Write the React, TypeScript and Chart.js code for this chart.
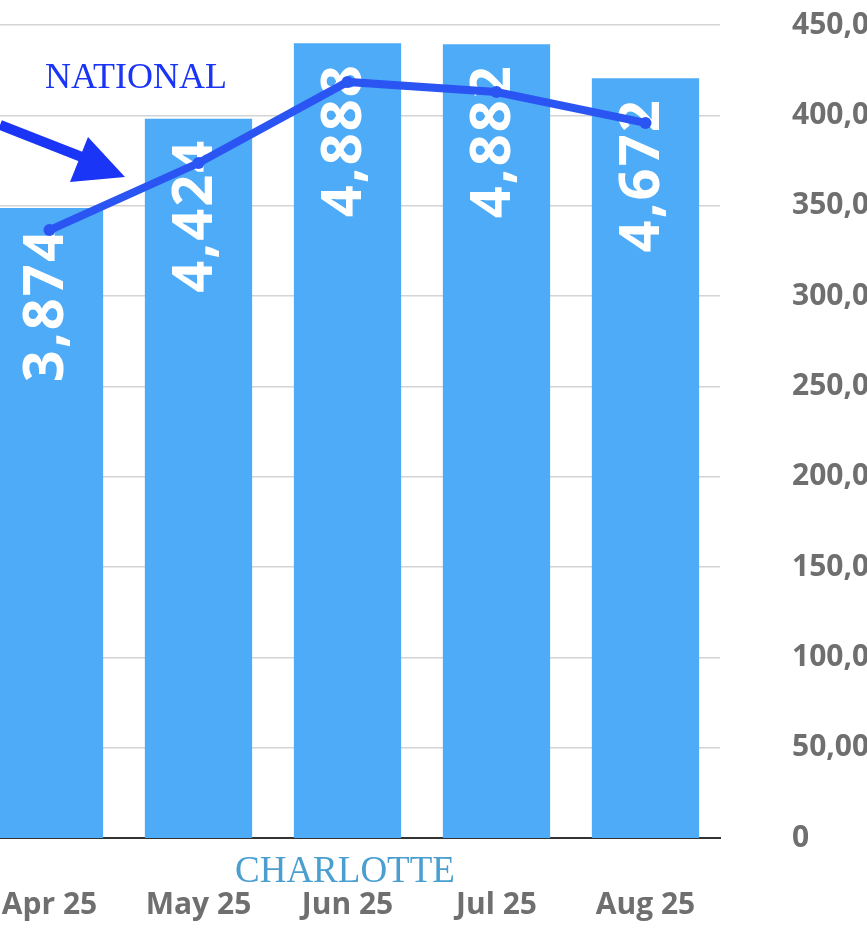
import React, { useEffect, useRef } from 'react';
import { Chart, registerables } from 'chart.js';

Chart.register(...registerables);

// data
const months = ['Apr 25', 'May 25', 'Jun 25', 'Jul 25', 'Aug 25'];
const charlotteValues = [3874, 4424, 4888, 4882, 4672];
const nationalValues = [336500, 373600, 418500, 412900, 395800];

const BAR_BLUE = '#4dabf7';
const LINE_BLUE = '#2b55f2';
const ARROW_BLUE = '#1a35f5';
const TICK_GREY = '#6f6f6f';
const TICK_FONT = "'Open Sans', 'DejaVu Sans', sans-serif";

// white rotated value labels inside the top of each bar
const barLabels = {
    id: 'barLabels',
    afterDatasetDraw(chart: any, args: any) {
        if (args.index !== 0) return;
        const ctx = chart.ctx;
        const meta = chart.getDatasetMeta(0);
        ctx.save();
        ctx.fillStyle = '#ffffff';
        ctx.font = `700 56px ${TICK_FONT}`;
        ctx.letterSpacing = '2px';
        ctx.textAlign = 'right';
        ctx.textBaseline = 'middle';
        meta.data.forEach((bar: any, i: number) => {
            ctx.save();
            ctx.translate(bar.x - 2, bar.y + 20);
            ctx.rotate(-Math.PI / 2);
            ctx.fillText(charlotteValues[i].toLocaleString('en-US'), 0, 0);
            ctx.restore();
        });
        ctx.restore();
    }
};

const App: React.FC = () => {
    const chartRef = useRef<HTMLCanvasElement>(null);
    const chartInstance = useRef<Chart | null>(null);

    useEffect(() => {
        if (!chartRef.current) return;
        const ctx = chartRef.current.getContext('2d');
        if (!ctx) return;
        if (chartInstance.current) chartInstance.current.destroy();

        chartInstance.current = new Chart(ctx, {
            type: 'bar',
            data: {
                labels: months,
                datasets: [
                    {
                        type: 'bar',
                        label: 'CHARLOTTE',
                        data: charlotteValues,
                        backgroundColor: BAR_BLUE,
                        yAxisID: 'yBars',
                        barPercentage: 0.8,
                        categoryPercentage: 0.9,
                        order: 1
                    },
                    {
                        type: 'line',
                        label: 'NATIONAL',
                        data: nationalValues,
                        borderColor: LINE_BLUE,
                        backgroundColor: LINE_BLUE,
                        borderWidth: 8,
                        pointRadius: 6,
                        pointBorderWidth: 0,
                        tension: 0,
                        yAxisID: 'yNational',
                        order: 0
                    }
                ]
            },
            options: {
                animation: false,
                responsive: false,
                layout: { padding: { left: 20, top: 25, right: 0, bottom: 20 } },
                plugins: {
                    legend: { display: false },
                    tooltip: { enabled: false }
                },
                scales: {
                    x: {
                        afterFit: (scale: any) => { scale.height = 88; },
                        grid: { display: false },
                        border: { display: true, color: '#333333', width: 2 },
                        ticks: {
                            color: TICK_GREY,
                            padding: 41,
                            font: { family: TICK_FONT, size: 30, weight: 'bold' }
                        }
                    },
                    // bar scale, its labels are cropped off the left of the picture
                    yBars: {
                        position: 'left',
                        display: false,
                        min: 0,
                        max: 5000
                    },
                    yNational: {
                        position: 'right',
                        min: 0,
                        max: 450000,
                        afterFit: (scale: any) => { scale.width = 147; },
                        grid: { color: '#d4d4d4', lineWidth: 1.5, drawTicks: true, tickLength: 70, tickColor: 'rgba(0,0,0,0)' },
                        border: { display: false },
                        ticks: {
                            stepSize: 50000,
                            color: TICK_GREY,
                            padding: 2,
                            font: { family: TICK_FONT, size: 30, weight: 'bold' }
                        }
                    }
                }
            },
            plugins: [barLabels]
        });

        return () => {
            if (chartInstance.current) {
                chartInstance.current.destroy();
                chartInstance.current = null;
            }
        };
    }, []);

    return (
        <div style={{ position: 'fixed', left: 0, top: 0, width: 867, height: 946, overflow: 'hidden', background: '#fff' }}>
            <div style={{ position: 'absolute', left: -45, top: 0, width: 912, height: 946 }}>
                <canvas ref={chartRef} width={912} height={946}></canvas>
            </div>
            <svg width={867} height={946} style={{ position: 'absolute', left: 0, top: 0, pointerEvents: 'none' }}>
                <line x1={0} y1={125} x2={92} y2={161} stroke={ARROW_BLUE} strokeWidth={10} />
                <polygon points="88,137 125,177 70,182" fill={ARROW_BLUE} />
            </svg>
            <div style={{ position: 'absolute', left: 45, top: 55, color: ARROW_BLUE, font: "36px 'Liberation Serif', serif" }}>
                NATIONAL
            </div>
            <div style={{ position: 'absolute', left: 235, top: 848, color: '#4a9fd0', font: "37px 'Liberation Serif', serif" }}>
                CHARLOTTE
            </div>
        </div>
    );
};

export default App;
